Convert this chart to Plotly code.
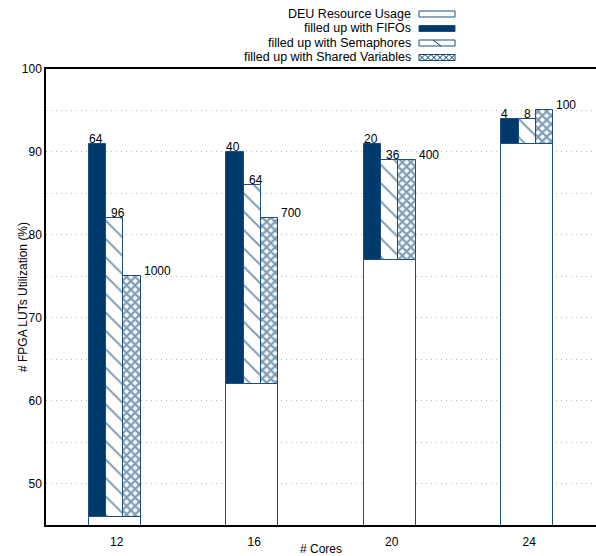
import plotly.graph_objects as go

cores = ["12", "16", "20", "24"]
deu_usage = [46, 62, 77, 91]
fifo_total = [91, 90, 91, 94]
sem_total = [82, 86, 89, 94]
sv_total = [75, 82, 89, 95]
fifo_labels = ["64", "40", "20", "4"]
sem_labels = ["96", "64", "36", "8"]
sv_labels = ["1000", "700", "400", "100"]

DARK = "#003a6c"
EDGE = "#1d4f7e"
FONT = "Liberation Sans, Arial, Helvetica, sans-serif"

W, H = 596, 556
ML, MR, MT, MB = 46, 0, 69, 31
PW, PH = W - ML - MR, H - MT - MB

idx = list(range(len(cores)))
fig = go.Figure()

fig.add_trace(go.Bar(x=idx, y=deu_usage, width=0.375, name="DEU Resource Usage",
                     marker=dict(color="white", line=dict(color=EDGE, width=1))))
fig.add_trace(go.Bar(x=idx, y=[t - b for t, b in zip(fifo_total, deu_usage)], base=deu_usage,
                     width=0.125, offset=-0.1875, name="filled up with FIFOs",
                     marker=dict(color=DARK, line=dict(color=EDGE, width=1))))
fig.add_trace(go.Bar(x=idx, y=[t - b for t, b in zip(sem_total, deu_usage)], base=deu_usage,
                     width=0.125, offset=-0.0625, name="filled up with Semaphores",
                     marker=dict(color="white", line=dict(color=EDGE, width=1),
                                 pattern=dict(shape="\\", fgcolor=DARK, bgcolor="white",
                                              size=13, solidity=0.15, fillmode="overlay"))))
fig.add_trace(go.Bar(x=idx, y=[t - b for t, b in zip(sv_total, deu_usage)], base=deu_usage,
                     width=0.125, offset=0.0625, name="filled up with Shared Variables",
                     marker=dict(color="white", line=dict(color=EDGE, width=1),
                                 pattern=dict(shape="x", fgcolor=DARK, bgcolor="white",
                                              size=6, solidity=0.6, fillmode="overlay"))))

annotations = []
for i in idx:
    for xpos, yv, txt, xs in [(i - 0.1875, fifo_total[i], fifo_labels[i], -2),
                              (i - 0.0625, sem_total[i], sem_labels[i], 3),
                              (i + 0.1875, sv_total[i], sv_labels[i], 1)]:
        annotations.append(dict(x=xpos, y=yv, xref="x", yref="y", text=txt, showarrow=False,
                                xanchor="left", yanchor="bottom", xshift=xs, yshift=-4,
                                font=dict(size=12, color="black", family=FONT)))

# axis titles
annotations.append(dict(x=0, y=0.5, xref="paper", yref="paper", xshift=-32,
                        text="# FPGA LUTs Utilization (%)", textangle=-90, showarrow=False,
                        font=dict(size=12, color="black", family=FONT)))
annotations.append(dict(x=0.5, y=0, xref="paper", yref="paper", yshift=-16,
                        text="# Cores", showarrow=False, yanchor="top", borderpad=0,
                        font=dict(size=12, color="black", family=FONT)))

# custom legend (text on left, swatch on right)
def px2paper(xp, yp):
    return (xp - ML) / PW, (H - MB - yp) / PH

legend_names = ["DEU Resource Usage", "filled up with FIFOs",
                "filled up with Semaphores", "filled up with Shared Variables"]
row_y = [14, 28.5, 43, 57.5]
shapes = []
sx0, sx1 = 419, 455
for k, (nm, ry) in enumerate(zip(legend_names, row_y)):
    tx, ty = px2paper(412, ry)
    annotations.append(dict(x=tx, y=ty, xref="paper", yref="paper", text=nm, showarrow=False,
                            xanchor="right", yanchor="middle", borderpad=0,
                            font=dict(size=12.5, color="black", family=FONT)))
    x0, y0 = px2paper(sx0, ry - 3)
    x1, y1 = px2paper(sx1, ry + 3)
    fill = DARK if k == 1 else "white"
    shapes.append(dict(type="rect", xref="paper", yref="paper", x0=x0, x1=x1, y0=y0, y1=y1,
                       fillcolor=fill, line=dict(color=EDGE, width=1)))
    if k == 2:
        a0, b0 = px2paper(433, ry - 3)
        a1, b1 = px2paper(441, ry + 3)
        shapes.append(dict(type="line", xref="paper", yref="paper", x0=a0, y0=b0, x1=a1, y1=b1,
                           line=dict(color=DARK, width=1)))
    if k == 3:
        step = 6
        xp = sx0
        while xp < sx1:
            xe = min(xp + step, sx1)
            a0, b0 = px2paper(xp, ry - 3)
            a1, b1 = px2paper(xe, ry + 3)
            shapes.append(dict(type="line", xref="paper", yref="paper", x0=a0, y0=b0, x1=a1, y1=b1,
                               line=dict(color=DARK, width=1)))
            a0, b0 = px2paper(xp, ry + 3)
            a1, b1 = px2paper(xe, ry - 3)
            shapes.append(dict(type="line", xref="paper", yref="paper", x0=a0, y0=b0, x1=a1, y1=b1,
                               line=dict(color=DARK, width=1)))
            xp += step

GRID = dict(gridcolor="#b8b8b8", griddash="1px,4px", gridwidth=1)

fig.update_layout(
    width=W, height=H, margin=dict(l=ML, r=MR, t=MT, b=MB, autoexpand=False),
    barmode="overlay", showlegend=False, bargap=0,
    plot_bgcolor="white", paper_bgcolor="white",
    font=dict(family=FONT, size=12, color="black"),
    annotations=annotations, shapes=shapes,
    xaxis=dict(range=[-0.5, 3.5], tickvals=idx, ticktext=cores, showgrid=False,
               showline=True, linecolor="black", linewidth=1.5, mirror=True,
               ticks="", zeroline=False, automargin=False, ticklabelshift=2,
               ticklabelstandoff=5),
    yaxis=dict(range=[45, 100], tickvals=[50, 60, 70, 80, 90, 100], showgrid=True,
               minor=dict(dtick=5, tick0=0, showgrid=True, **GRID),
               showline=True, linecolor="black", linewidth=1.5, ticks="", zeroline=False,
               automargin=False, **GRID),
)

fig.write_html("out.html", config={"displayModeBar": False},
               post_script="document.body.style.margin='0';document.body.style.overflow='hidden';")
